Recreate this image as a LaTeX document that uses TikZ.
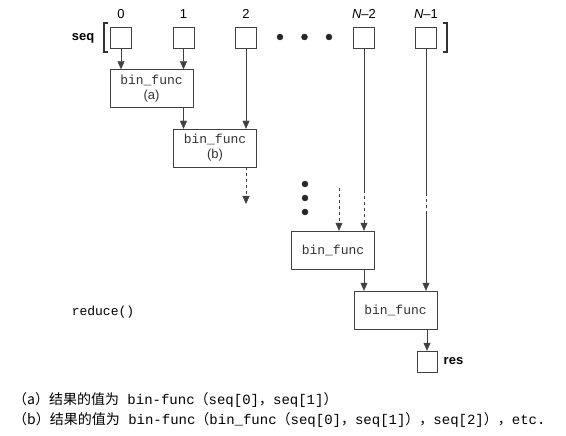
\documentclass[tikz,border=0pt]{standalone}
\usepackage{fontspec}
\setmainfont{Liberation Sans}
\setmonofont{Liberation Mono}
\newfontfamily\cjk{Noto Sans CJK SC}
\usetikzlibrary{arrows.meta,calc,positioning}

\tikzset{
  cell/.style={draw=black!75, minimum width=21pt, minimum height=21pt, inner sep=0pt},
  funcbox/.style={draw=black!75, text=black!80, minimum width=83pt, minimum height=38pt,
    inner sep=0pt, align=center, font=\fontsize{13}{15}\selectfont},
  flow/.style={draw=black!75, thin, -{Triangle[length=8pt,width=7pt]}},
  wire/.style={draw=black!75, thin},
  lbl/.style={font=\fontsize{13}{15}\selectfont},
  note/.style={anchor=west, inner sep=0pt, font=\fontsize{14}{16}\selectfont},
}

\begin{document}
\begin{tikzpicture}[x=1pt, y=-1pt]
\useasboundingbox (0,0) rectangle (566,436);

% the sequence
\node[cell] (s0) at (121,37.5) {};
\node[cell] (s1) at (183.5,37.5) {};
\node[cell] (s2) at (246,37.5) {};
\node[cell] (sn2) at (364,37.5) {};
\node[cell] (sn1) at (426,37.5) {};

\node[lbl] (i0) at (121,14) {0};
\node[lbl] (i1) at (183.5,14) {1};
\node[lbl] (i2) at (246,14) {2};
\node[lbl] (in2) at (364,14) {\textit{N}--2};
\node[lbl] (in1) at (426,14) {\textit{N}--1};
\node[lbl, font=\fontsize{13}{15}\selectfont\bfseries] (seq) at (83,38) {seq};

\draw [line width=1.8pt, black!80] (108,23) -- (104,23) -- (104,52) -- (108,52);
\draw [line width=1.8pt, black!80] (443,23) -- (447,23) -- (447,52) -- (443,52);

\foreach \x in {280,304.5,329}
  \filldraw [black!85] (\x,37) circle [radius=3pt];

% the calls
\node[funcbox] (fa) at (151.5,88.5) {\texttt{bin\_func}\\(a)};
\node[funcbox] (fb) at (215,148) {\texttt{bin\_func}\\(b)};
\node[funcbox] (fc) at (333,250) {\texttt{bin\_func}};
\node[funcbox] (fd) at (395.5,310) {\texttt{bin\_func}};

\node[cell, minimum width=20pt] (res) at (427,361.5) {};
\node[lbl, font=\fontsize{13}{15}\selectfont\bfseries, right=3pt of res] (reslbl) {res};

\foreach \y in {184,198,212}
  \filldraw [black!85] (305,\y) circle [radius=3pt];

\draw [flow] (s0) -- (s0 |- fa.north);
\draw [flow] (s1) -- (s1 |- fa.north);
\draw [flow] (fa.south -| s1) -- (s1 |- fb.north);
\draw [flow] (s2) -- (s2 |- fb.north);

\coordinate (bout) at (246,204);
\draw [flow, dashed] (fb.south -| s2) -- (bout);

\coordinate (cin) at (339,188);
\draw [flow, dashed] (cin) -- (cin |- fc.north);

\coordinate (n2cut) at (364,190);
\draw [wire] (sn2) -- (n2cut);
\draw [flow, dashed] (n2cut) -- (sn2 |- fc.north);

\coordinate (n1cut) at (426,193);
\coordinate (n1join) at (426,213);
\draw [wire] (sn1) -- (n1cut);
\draw [wire, dashed] (n1cut) -- (n1join);
\draw [flow] (n1join) -- (sn1 |- fd.north);

\draw [flow] (fc.south -| sn2) -- (sn2 |- fd.north);
\draw [flow] (fd.south -| res) -- (res);

\node[lbl, font=\fontsize{13}{15}\selectfont\ttfamily] (reduce) at (103,312) {reduce()};

% notes
\node[note] (notea) at (13,400)
  {\cjk （a）结果的值为\ttfamily\ bin-func\cjk （\ttfamily seq[0]\cjk ，\ttfamily seq[1]\cjk ）};
\node[note] (noteb) at (13,420)
  {\cjk （b）结果的值为\ttfamily\ bin-func\cjk （\ttfamily bin\_func\cjk （\ttfamily seq[0]\cjk ，\ttfamily seq[1]\cjk ），\ttfamily seq[2]\cjk ），\ttfamily etc.};
\end{tikzpicture}
\end{document}
